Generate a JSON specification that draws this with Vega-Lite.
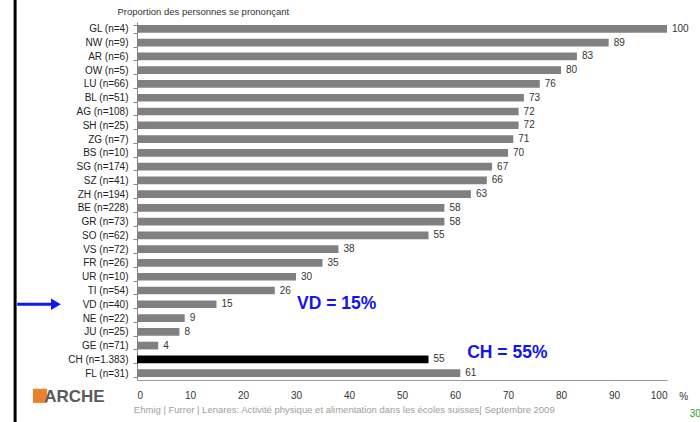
{
  "$schema": "https://vega.github.io/schema/vega-lite/v6.json",
  "autosize": "none",
  "width": 530,
  "height": 358,
  "padding": {"left": 137, "top": 22, "right": 33, "bottom": 42},
  "background": "white",
  "config": {"view": {"stroke": null}, "font": "Liberation Sans"},
  "layer": [
    {
      "data": {
        "values": [
          {"code": "GL", "label": "GL (n=4)", "value": 100},
          {"code": "NW", "label": "NW (n=9)", "value": 89},
          {"code": "AR", "label": "AR (n=6)", "value": 83},
          {"code": "OW", "label": "OW (n=5)", "value": 80},
          {"code": "LU", "label": "LU (n=66)", "value": 76},
          {"code": "BL", "label": "BL (n=51)", "value": 73},
          {"code": "AG", "label": "AG (n=108)", "value": 72},
          {"code": "SH", "label": "SH (n=25)", "value": 72},
          {"code": "ZG", "label": "ZG (n=7)", "value": 71},
          {"code": "BS", "label": "BS (n=10)", "value": 70},
          {"code": "SG", "label": "SG (n=174)", "value": 67},
          {"code": "SZ", "label": "SZ (n=41)", "value": 66},
          {"code": "ZH", "label": "ZH (n=194)", "value": 63},
          {"code": "BE", "label": "BE (n=228)", "value": 58},
          {"code": "GR", "label": "GR (n=73)", "value": 58},
          {"code": "SO", "label": "SO (n=62)", "value": 55},
          {"code": "VS", "label": "VS (n=72)", "value": 38},
          {"code": "FR", "label": "FR (n=26)", "value": 35},
          {"code": "UR", "label": "UR (n=10)", "value": 30},
          {"code": "TI", "label": "TI (n=54)", "value": 26},
          {"code": "VD", "label": "VD (n=40)", "value": 15},
          {"code": "NE", "label": "NE (n=22)", "value": 9},
          {"code": "JU", "label": "JU (n=25)", "value": 8},
          {"code": "GE", "label": "GE (n=71)", "value": 4},
          {"code": "CH", "label": "CH (n=1.383)", "value": 55},
          {"code": "FL", "label": "FL (n=31)", "value": 61}
        ]
      },
      "encoding": {
        "y": {
          "field": "label",
          "type": "nominal",
          "sort": null,
          "scale": {"paddingInner": 0.44, "paddingOuter": 0.22},
          "axis": {
            "title": "Proportion des personnes se prononçant",
            "titleAngle": 0,
            "titleX": -20,
            "titleY": -6,
            "titleAlign": "left",
            "titleBaseline": "bottom",
            "titleFontSize": 9.5,
            "titleFontWeight": "normal",
            "titleColor": "#333333",
            "tickBand": "extent",
            "tickSize": 4,
            "tickColor": "#888888",
            "domainColor": "#888888",
            "labelPadding": 5,
            "labelFontSize": 10,
            "labelColor": "#222222",
            "labelFontWeight": "normal"
          }
        },
        "x": {
          "field": "value",
          "type": "quantitative",
          "scale": {"domain": [0, 100], "nice": false},
          "axis": {
            "values": [0, 10, 20, 30, 40, 50, 60, 70, 80, 90, 100],
            "ticks": false,
            "grid": false,
            "domainColor": "#999999",
            "labelFontSize": 10,
            "labelColor": "#333333",
            "labelPadding": 10,
            "title": null
          }
        }
      },
      "layer": [
        {
          "mark": {"type": "bar"},
          "encoding": {
            "color": {
              "condition": {"test": "datum.code === 'CH'", "value": "#000000"},
              "value": "#808080"
            }
          }
        },
        {
          "mark": {"type": "text", "align": "left", "baseline": "middle", "dx": 5, "fontSize": 10, "color": "#333333"},
          "encoding": {"text": {"field": "value", "type": "quantitative"}}
        }
      ]
    },
    {
      "data": {"values": [{"note": "annotations"}]},
      "layer": [
        {
          "mark": {"type": "rule", "color": "#000000", "strokeWidth": 3},
          "encoding": {
            "x": {"datum": -23, "axis": null},
            "y": {"datum": -2, "scale": {"domain": [0, 26], "reverse": true, "nice": false, "zero": false}, "axis": null},
            "y2": {"datum": 29.5}
          }
        },
        {
          "mark": {"type": "rule", "color": "#0a1bf0", "strokeWidth": 3},
          "encoding": {
            "x": {"datum": -22.6, "axis": null},
            "x2": {"datum": -16},
            "y": {"datum": 20.5, "axis": null}
          }
        },
        {
          "mark": {"type": "point", "shape": "triangle-right", "filled": true, "color": "#0a1bf0", "opacity": 1, "size": 130},
          "encoding": {
            "x": {"datum": -15.3, "axis": null},
            "y": {"datum": 20.5, "axis": null}
          }
        },
        {
          "mark": {"type": "text", "align": "left", "baseline": "middle", "fontSize": 17.5, "fontWeight": "bold", "color": "#1414ee"},
          "encoding": {
            "x": {"datum": 30.2, "axis": null},
            "y": {"datum": 20.5, "axis": null},
            "text": {"value": "VD = 15%"}
          }
        },
        {
          "mark": {"type": "text", "align": "left", "baseline": "middle", "fontSize": 17.5, "fontWeight": "bold", "color": "#1414ee"},
          "encoding": {
            "x": {"datum": 62.3, "axis": null},
            "y": {"datum": 24.05, "axis": null},
            "text": {"value": "CH = 55%"}
          }
        },
        {
          "mark": {"type": "text", "align": "left", "baseline": "alphabetic", "fontSize": 10, "color": "#333333"},
          "encoding": {
            "x": {"datum": 102.3, "axis": null},
            "y": {"datum": 27.45, "axis": null},
            "text": {"value": "%"}
          }
        },
        {
          "mark": {"type": "text", "align": "left", "baseline": "middle", "fontSize": 9.5, "color": "#a29d99"},
          "encoding": {
            "x": {"datum": -0.6, "axis": null},
            "y": {"datum": 28.2, "axis": null},
            "text": {"value": "Ehmig | Furrer | Lenares: Activité physique et alimentation dans les écoles suisses| Septembre 2009"}
          }
        },
        {
          "mark": {"type": "point", "shape": "square", "filled": true, "color": "#e8822f", "opacity": 1, "size": 200},
          "encoding": {
            "x": {"datum": -18.3, "axis": null},
            "y": {"datum": 27.15, "axis": null}
          }
        },
        {
          "mark": {"type": "text", "align": "left", "baseline": "middle", "fontSize": 17, "fontWeight": "bold", "color": "#5a5a5a"},
          "encoding": {
            "x": {"datum": -17.5, "axis": null},
            "y": {"datum": 27.2, "axis": null},
            "text": {"value": "ARCHE"}
          }
        },
        {
          "mark": {"type": "text", "align": "left", "baseline": "middle", "fontSize": 10, "color": "#2e9b2e"},
          "encoding": {
            "x": {"datum": 104.3, "axis": null},
            "y": {"datum": 28.5, "axis": null},
            "text": {"value": "30"}
          }
        }
      ]
    }
  ],
  "resolve": {
    "scale": {"y": "independent"},
    "axis": {"y": "independent", "x": "independent"}
  }
}
